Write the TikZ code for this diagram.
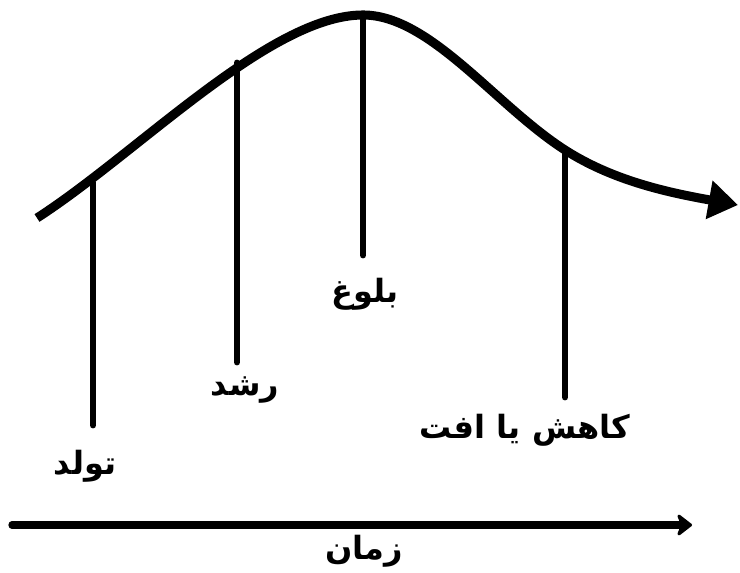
\documentclass[tikz,border=0pt]{standalone}
\usepackage{fontspec}
\newfontfamily\arabicfont[Script=Arabic]{DejaVu Sans}
\TeXXeTstate=1
\usetikzlibrary{arrows.meta}
\tikzset{
  lifecurve/.style={line width=6.8pt,-{Triangle[length=22pt,width=28pt]}},
  stageline/.style={line width=5.2pt,line cap=round},
  timeaxis/.style={line width=5.5pt,line cap=round,-{Stealth[length=13pt,width=20pt,inset=4pt,round]}},
  stagelabel/.style={font=\arabicfont\bfseries\fontsize{24}{28}\selectfont,inner sep=0pt}
}
\begin{document}
\begin{tikzpicture}[x=0.75pt,y=-0.75pt]
\useasboundingbox (0,0) rectangle (740,573);
% curve
\coordinate (curvestart) at (37,218);
\coordinate (maturetop) at (363,15);
\coordinate (declinetop) at (565,150);
\coordinate (curveend) at (738,205);
\draw[lifecurve] (curvestart) .. controls (138,153) and (270,15) .. (maturetop)
  .. controls (430,15) and (495,105) .. (declinetop)
  .. controls (612,180) and (665,192) .. (curveend);

\coordinate (birthtop) at (93,183);
\coordinate (growtop) at (237,63);

\node[stagelabel] (birth) at (85,466) {\beginR تولد\endR};
\node[stagelabel] (grow) at (245,390) {\beginR رشد\endR};
\node[stagelabel] (mature) at (365,294) {\beginR بلوغ\endR};
\node[stagelabel] (decline) at (525,430) {\beginR کاهش یا افت\endR};

\draw[stageline] (birthtop) -- (birthtop |- 0,425);
\draw[stageline] (growtop) -- (growtop |- 0,362);
\draw[stageline] (maturetop) -- (maturetop |- 0,255);
\draw[stageline] (declinetop) -- (declinetop |- 0,397);

% time axis
\coordinate (axisstart) at (12,525);
\coordinate (axisend) at (692,525);
\draw[timeaxis] (axisstart) -- (axisend);
\node[stagelabel] (time) at (364,551) {\beginR زمان\endR};
\end{tikzpicture}
\end{document}
